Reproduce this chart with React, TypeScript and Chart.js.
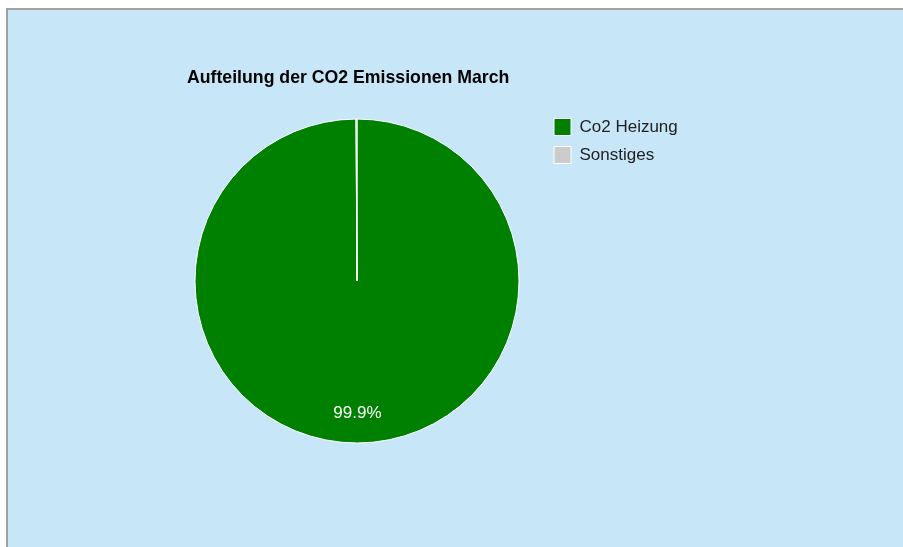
import { useEffect, useRef } from 'react';
import { Chart, registerables } from 'chart.js';

Chart.register(...registerables);

const chartTitle = 'Aufteilung der CO2 Emissionen March';
const categories = ['Co2 Heizung', 'Sonstiges'];
const shares = [99.9, 0.1];
const sliceColors = ['#008000', '#cccccc'];

const TITLE_SHIFT = 16;
const LEGEND_FONT = { family: 'Arial', size: 17 };
const LEGEND_BOX = 17;
const LEGEND_PAD = 11;
const CHART_RIGHT = 543;

const titleNudge = {
  id: 'titleNudge',
  afterLayout(chart: any) {
    const t = chart.titleBlock;
    if (t) {
      t.left += TITLE_SHIFT;
      t.right += TITLE_SHIFT;
    }
  },
};

const sliceLabels = {
  id: 'sliceLabels',
  afterDatasetsDraw(chart: any) {
    const ctx = chart.ctx;
    const values = chart.data.datasets[0].data as number[];
    const total = values.reduce((a, b) => a + b, 0);
    const meta = chart.getDatasetMeta(0);
    ctx.save();
    ctx.font = '17px Arial';
    ctx.fillStyle = '#ffffff';
    ctx.textAlign = 'center';
    ctx.textBaseline = 'middle';
    meta.data.forEach((arc: any, i: number) => {
      const pct = (values[i] / total) * 100;
      if (pct < 5) return;
      const { x, y, startAngle, endAngle, outerRadius } = arc.getProps(
        ['x', 'y', 'startAngle', 'endAngle', 'outerRadius'],
        true
      );
      const mid = (startAngle + endAngle) / 2;
      const r = outerRadius * 0.818;
      ctx.fillText(pct.toFixed(1) + '%', x + Math.cos(mid) * r, y + Math.sin(mid) * r);
    });
    ctx.restore();
  },
};

function legendWidth(): number {
  const c = document.createElement('canvas').getContext('2d');
  if (!c) return 145;
  c.font = `${LEGEND_FONT.size}px ${LEGEND_FONT.family}`;
  const textW = Math.max(...categories.map((t) => c.measureText(t).width));
  return LEGEND_PAD + LEGEND_BOX + LEGEND_FONT.size / 2 + textW + 10;
}

export default function App() {
  const ref = useRef<HTMLCanvasElement | null>(null);

  useEffect(() => {
    if (!ref.current) return;
    const rightPad = 903 - CHART_RIGHT - legendWidth();
    const chart = new Chart(ref.current, {
      type: 'pie',
      data: {
        labels: categories,
        datasets: [
          {
            data: shares,
            backgroundColor: sliceColors,
            borderColor: '#ffffff',
            borderWidth: 1,
            radius: 162,
          },
        ],
      },
      options: {
        responsive: false,
        animation: false,
        devicePixelRatio: 1,
        layout: {
          padding: { left: 171, top: 56, right: rightPad, bottom: 92.5 },
        },
        plugins: {
          title: {
            display: true,
            text: chartTitle,
            align: 'start',
            color: '#000000',
            font: { family: 'Arial', size: 17.7, weight: 'bold' },
            padding: { top: 11, bottom: 19.26 },
          },
          legend: {
            display: true,
            position: 'right',
            align: 'start',
            fullSize: false,
            labels: {
              boxWidth: LEGEND_BOX,
              boxHeight: LEGEND_BOX,
              padding: LEGEND_PAD,
              color: '#222222',
              font: LEGEND_FONT,
            },
          },
          tooltip: { enabled: false },
        },
      },
      plugins: [titleNudge, sliceLabels],
    });
    return () => chart.destroy();
  }, []);

  return (
    <div
      style={{
        position: 'fixed',
        left: 0,
        top: 0,
        width: 903,
        height: 547,
        background: '#ffffff',
        overflow: 'hidden',
      }}
    >
      <div
        style={{
          position: 'absolute',
          left: 6,
          top: 8,
          width: 903,
          height: 547,
          background: '#c7e7f8',
          borderTop: '2px solid #a0a0a0',
          borderLeft: '2px solid #a0a0a0',
        }}
      />
      <canvas
        ref={ref}
        width={903}
        height={547}
        style={{ position: 'absolute', left: 0, top: 0, width: 903, height: 547 }}
      />
    </div>
  );
}
